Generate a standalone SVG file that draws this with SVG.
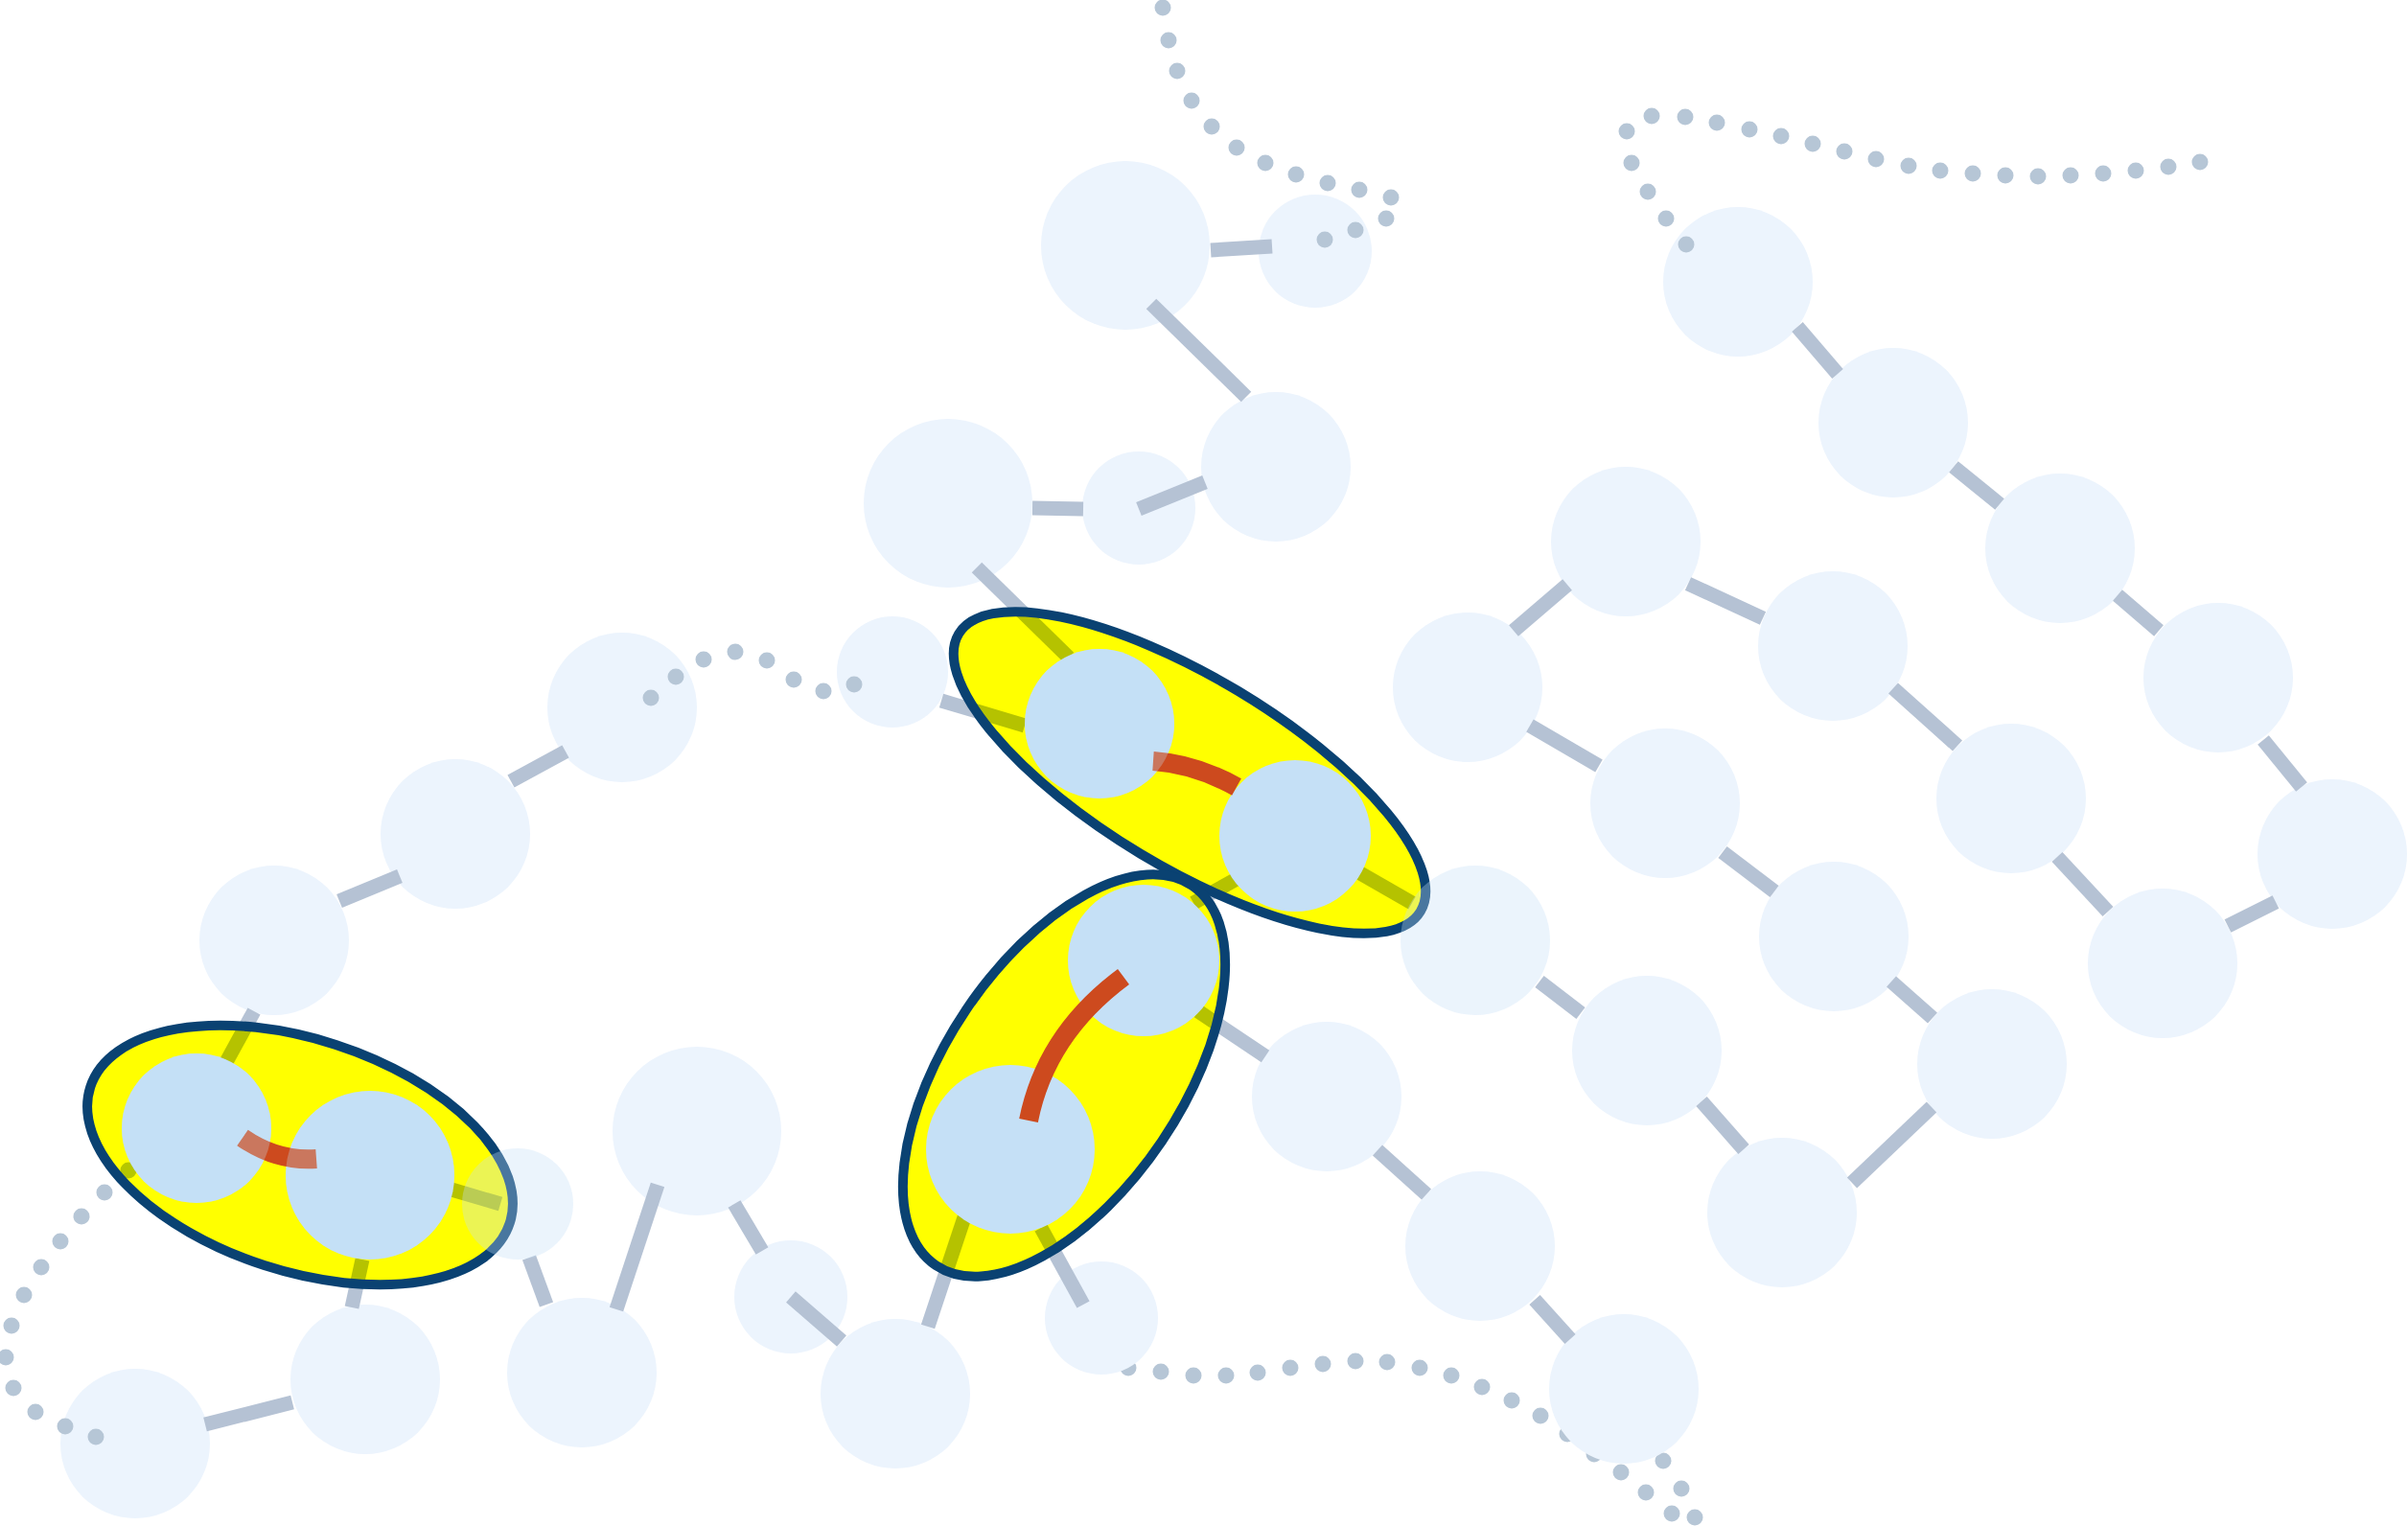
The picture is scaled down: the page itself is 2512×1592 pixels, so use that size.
<svg xmlns="http://www.w3.org/2000/svg" width="2512" height="1592" viewBox="0 0 2512 1592">
<style>
.n{fill:#ECF4FD}
.nt{fill:#C5E0F6;fill-opacity:.34}
.h{fill:#C5E0F6}
.e{stroke:#B5C2D4;stroke-width:15;fill:none;stroke-linecap:butt}
.d{fill:#B6C6D6}
.gf{fill:#FFFF00;mix-blend-mode:multiply}
.gs{fill:none;stroke:#0A4272;stroke-width:10}
.b{stroke:#CD4A1E;stroke-width:20;fill:none}
.tint{fill:#C5E0F6;fill-opacity:.3}
</style>
<defs>
<mask id="mb" maskUnits="userSpaceOnUse" x="0" y="0" width="2512" height="1592">
<rect width="2512" height="1592" fill="#fff"/>
<circle cx="1149" cy="1375" r="59" fill="#000"/>
<circle cx="1694" cy="1449" r="78" fill="#000"/>
</mask>
</defs>
<rect width="2512" height="1592" fill="#fff"/>
<g id="nodes">
<g id="n1"><circle class="n" cx="1174" cy="256" r="88"/></g>
<g id="n2"><circle class="n" cx="1372" cy="262" r="59"/></g>
<g id="n3"><circle class="n" cx="1331" cy="487" r="78"/></g>
<g id="n4"><circle class="n" cx="989" cy="525" r="88"/></g>
<g id="n5"><circle class="n" cx="1188" cy="530" r="59"/></g>
<g id="n6"><circle class="n" cx="931" cy="701" r="58"/></g>
<g id="n7"><circle class="n" cx="649" cy="738" r="78"/></g>
<g id="n8"><circle class="n" cx="475" cy="870" r="78"/></g>
<g id="n9"><circle class="n" cx="286" cy="981" r="78"/></g>
<g id="nG"><circle class="n" cx="727" cy="1180" r="88"/></g>
<g id="nH"><circle class="n" cx="825" cy="1353" r="59"/></g>
<g id="nF"><circle class="n" cx="607" cy="1432" r="78"/></g>
<g id="nD"><circle class="n" cx="381" cy="1439" r="78"/></g>
<g id="nE"><circle class="n" cx="141" cy="1506" r="78"/></g>
<g id="nB1"><circle class="n" cx="934" cy="1454" r="78"/></g>
<g id="nS"><circle class="n" cx="1149" cy="1375" r="59"/></g>
<g id="r1"><circle class="n" cx="1813" cy="294" r="78"/></g>
<g id="r2"><circle class="n" cx="1975" cy="441" r="78"/></g>
<g id="r3"><circle class="n" cx="2149" cy="572" r="78"/></g>
<g id="r4"><circle class="n" cx="2314" cy="707" r="78"/></g>
<g id="r5"><circle class="n" cx="2433" cy="891" r="78"/></g>
<g id="r6"><circle class="n" cx="2256" cy="1005" r="78"/></g>
<g id="r7"><circle class="n" cx="2098" cy="833" r="78"/></g>
<g id="r8"><circle class="n" cx="1912" cy="674" r="78"/></g>
<g id="r9"><circle class="n" cx="1696" cy="565" r="78"/></g>
<g id="r10"><circle class="n" cx="1531" cy="717" r="78"/></g>
<g id="r11"><circle class="n" cx="1737" cy="838" r="78"/></g>
<g id="r12"><circle class="n" cx="1913" cy="977" r="78"/></g>
<g id="r13"><circle class="n" cx="2078" cy="1110" r="78"/></g>
<g id="r14"><circle class="n" cx="1859" cy="1265" r="78"/></g>
<g id="r15"><circle class="n" cx="1718" cy="1096" r="78"/></g>
<g id="r17"><circle class="n" cx="1384" cy="1144" r="78"/></g>
<g id="r18"><circle class="n" cx="1544" cy="1300" r="78"/></g>
<g id="r19"><circle class="n" cx="1694" cy="1449" r="78"/></g>
</g>
<g id="connectors">
<g id="bonds-grey">
<path class="e" d="M1263 261L1327 257"/>
<path class="e" d="M1201 317L1300 414"/>
<path class="e" d="M1077 530L1130 531"/>
<path class="e" d="M1188 531L1257 503"/>
<path class="e" d="M1019 592L1115 686"/>
<path class="e" d="M982 731L1069 757"/>
<path class="e" d="M354 940L417 914"/>
<path class="e" d="M533 815L590 784"/>
<path class="e" d="M265 1055L236 1108"/>
<path class="e" d="M378 1314L367 1364"/>
<path class="e" d="M471 1241L522 1256"/>
<path class="e" d="M552 1312L570 1361"/>
<path class="e" d="M643 1366L686 1236"/>
<path class="e" d="M766 1256L795 1305"/>
<path class="e" d="M214 1486L305 1463"/>
<path class="e" d="M825 1353L878 1399"/>
<path class="e" d="M1006 1270L968 1384"/>
<path class="e" d="M1086 1281L1130 1361"/>
<path class="e" d="M1250 1055L1320 1102"/>
<path class="e" d="M1245 942L1290 917"/>
<path class="e" d="M1419 911L1473 942"/>
<path class="e" d="M1875 341L1917 390"/>
<path class="e" d="M2038 487L2086 526"/>
<path class="e" d="M2209 621L2252 658"/>
<path class="e" d="M2361 772L2401 821"/>
<path class="e" d="M1761 609L1839 645"/>
<path class="e" d="M1975 718L2042 778"/>
<path class="e" d="M1579 658L1635 610"/>
<path class="e" d="M1596 757L1668 799"/>
<path class="e" d="M1797 889L1851 930"/>
<path class="e" d="M1973 1024L2016 1062"/>
<path class="e" d="M2146 894L2199 951"/>
<path class="e" d="M2324 966L2374 941"/>
<path class="e" d="M1775 1149L1819 1199"/>
<path class="e" d="M1932 1234L2015 1155"/>
<path class="e" d="M1606 1024L1649 1057"/>
<path class="e" d="M1437 1200L1488 1246"/>
<path class="e" d="M1601 1356L1638 1397"/>
</g>
<g id="chain-top">
<circle class="d" cx="1213" cy="8" r="8.5"/><circle class="d" cx="1219" cy="42" r="8.5"/><circle class="d" cx="1228" cy="74" r="8.5"/><circle class="d" cx="1243" cy="105" r="8.5"/><circle class="d" cx="1264" cy="132" r="8.5"/><circle class="d" cx="1290" cy="154" r="8.5"/><circle class="d" cx="1320" cy="170" r="8.5"/><circle class="d" cx="1352" cy="182" r="8.5"/><circle class="d" cx="1385" cy="191" r="8.5"/><circle class="d" cx="1418" cy="198" r="8.5"/><circle class="d" cx="1451" cy="206" r="8.5"/><circle class="d" cx="1446" cy="228" r="8.5"/><circle class="d" cx="1414" cy="240" r="8.5"/><circle class="d" cx="1382" cy="250" r="8.5"/>
</g>
<g id="chain-mid">
<circle class="d" cx="679" cy="728" r="8.5"/><circle class="d" cx="705" cy="706" r="8.5"/><circle class="d" cx="734" cy="688" r="8.5"/><circle class="d" cx="767" cy="680" r="8.5"/><circle class="d" cx="800" cy="689" r="8.5"/><circle class="d" cx="828" cy="709" r="8.5"/><circle class="d" cx="859" cy="721" r="8.5"/><circle class="d" cx="891" cy="714" r="8.5"/>
</g>
<g id="chain-right">
<circle class="d" cx="1759" cy="255" r="8.5"/><circle class="d" cx="1738" cy="228" r="8.5"/><circle class="d" cx="1719" cy="200" r="8.5"/><circle class="d" cx="1702" cy="170" r="8.5"/><circle class="d" cx="1697" cy="137" r="8.5"/><circle class="d" cx="1723" cy="121" r="8.5"/><circle class="d" cx="1758" cy="122" r="8.5"/><circle class="d" cx="1791" cy="128" r="8.5"/><circle class="d" cx="1825" cy="135" r="8.5"/><circle class="d" cx="1858" cy="142" r="8.5"/><circle class="d" cx="1891" cy="150" r="8.5"/><circle class="d" cx="1924" cy="158" r="8.5"/><circle class="d" cx="1957" cy="166" r="8.5"/><circle class="d" cx="1991" cy="173" r="8.5"/><circle class="d" cx="2024" cy="178" r="8.5"/><circle class="d" cx="2058" cy="181" r="8.5"/><circle class="d" cx="2092" cy="183" r="8.5"/><circle class="d" cx="2126" cy="184" r="8.5"/><circle class="d" cx="2160" cy="183" r="8.5"/><circle class="d" cx="2194" cy="181" r="8.5"/><circle class="d" cx="2228" cy="178" r="8.5"/><circle class="d" cx="2262" cy="174" r="8.5"/><circle class="d" cx="2295" cy="169" r="8.5"/>
</g>
<g id="chain-left">
<circle class="d" cx="134" cy="1221" r="8.5"/><circle class="d" cx="109" cy="1244" r="8.5"/><circle class="d" cx="85" cy="1269" r="8.5"/><circle class="d" cx="63" cy="1295" r="8.5"/><circle class="d" cx="43" cy="1322" r="8.5"/><circle class="d" cx="25" cy="1351" r="8.5"/><circle class="d" cx="12" cy="1383" r="8.5"/><circle class="d" cx="6" cy="1416" r="8.5"/><circle class="d" cx="14" cy="1448" r="8.5"/><circle class="d" cx="37" cy="1473" r="8.5"/><circle class="d" cx="68" cy="1488" r="8.5"/><circle class="d" cx="100" cy="1499" r="8.5"/>
</g>
<g id="chain-bottom" mask="url(#mb)">
<circle class="d" cx="1177" cy="1427" r="8.5"/><circle class="d" cx="1211" cy="1431" r="8.5"/><circle class="d" cx="1245" cy="1435" r="8.5"/><circle class="d" cx="1279" cy="1435" r="8.5"/><circle class="d" cx="1312" cy="1432" r="8.5"/><circle class="d" cx="1346" cy="1427" r="8.5"/><circle class="d" cx="1380" cy="1423" r="8.5"/><circle class="d" cx="1414" cy="1420" r="8.5"/><circle class="d" cx="1447" cy="1421" r="8.5"/><circle class="d" cx="1481" cy="1427" r="8.5"/><circle class="d" cx="1514" cy="1435" r="8.5"/><circle class="d" cx="1546" cy="1447" r="8.5"/><circle class="d" cx="1577" cy="1461" r="8.5"/><circle class="d" cx="1607" cy="1477" r="8.5"/><circle class="d" cx="1635" cy="1496" r="8.5"/><circle class="d" cx="1663" cy="1517" r="8.5"/><circle class="d" cx="1691" cy="1536" r="8.5"/><circle class="d" cx="1717" cy="1557" r="8.5"/><circle class="d" cx="1744" cy="1579" r="8.5"/><circle class="d" cx="1735" cy="1524" r="8.5"/><circle class="d" cx="1754" cy="1553" r="8.5"/><circle class="d" cx="1768" cy="1583" r="8.5"/>
</g>
</g>
<g id="groups">
<ellipse class="gf" cx="313" cy="1205" rx="230" ry="121" transform="rotate(18 313 1205)"/>
<ellipse class="gf" cx="1241" cy="806" rx="281" ry="99" transform="rotate(31 1241 806)"/>
<ellipse class="gf" cx="1110" cy="1122" rx="239" ry="123" transform="rotate(-56 1110 1122)"/>
<ellipse class="gs" cx="313" cy="1205" rx="230" ry="121" transform="rotate(18 313 1205)"/>
<ellipse class="gs" cx="1241" cy="806" rx="281" ry="99" transform="rotate(31 1241 806)"/>
<ellipse class="gs" cx="1110" cy="1122" rx="239" ry="123" transform="rotate(-56 1110 1122)"/>
</g>
<g id="nC"><circle class="nt" cx="540" cy="1256" r="58"/></g>
<g id="r16"><circle class="nt" cx="1539" cy="981" r="78"/></g>
<g id="hA"><circle class="h" cx="205" cy="1177" r="78"/></g>
<g id="hB"><circle class="h" cx="386" cy="1226" r="88"/></g>
<g id="hT1"><circle class="h" cx="1147" cy="755" r="78"/></g>
<g id="hT2"><circle class="h" cx="1351" cy="872" r="79"/></g>
<g id="hM1"><circle class="h" cx="1193" cy="1002" r="79"/></g>
<g id="hM2"><circle class="h" cx="1054" cy="1199" r="88"/></g>
<g id="bond-marks">
<path class="b" d="M253 1187Q289 1212 330 1209"/>
<path class="b" d="M1203 794Q1247 797 1290 821"/>
<path class="b" d="M1073 1169Q1091 1079 1172 1019"/>
<circle class="tint" cx="205" cy="1177" r="78"/>
<circle class="tint" cx="386" cy="1226" r="88"/>
<circle class="tint" cx="1147" cy="755" r="78"/>
</g>
</svg>
